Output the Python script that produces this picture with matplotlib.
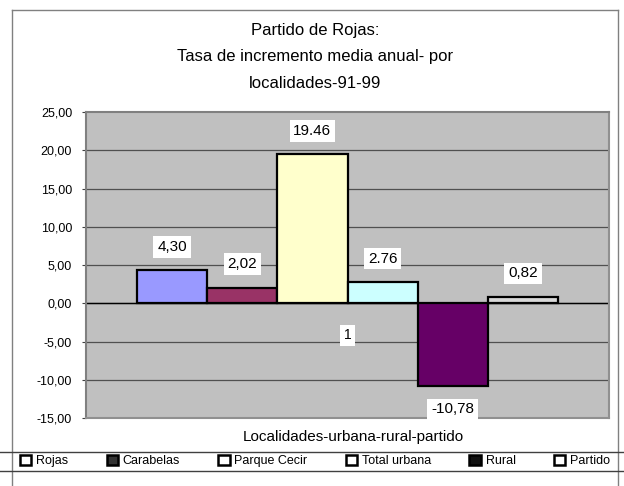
import matplotlib
matplotlib.use("Agg")
import matplotlib.pyplot as plt
from matplotlib.patches import Patch
from matplotlib.lines import Line2D
import numpy as np

plt.rcParams['font.family'] = ['Liberation Sans', 'DejaVu Sans']

series = ["Rojas", "Carabelas", "Parque Cecir", "Total urbana", "Rural", "Partido"]
values = [4.30, 2.02, 19.46, 2.76, -10.78, 0.82]
labels = ["4,30", "2,02", "19.46", "2.76", "-10,78", "0,82"]
colors = ["#9999FF", "#993366", "#FFFFCC", "#CCFFFF", "#660066", "#D8D8D8"]
legend_colors = ["white", "#333333", "white", "white", "#111111", "white"]
stray_label = "1"
stray_pos = (2.5, -4.2)
yticks = [25, 20, 15, 10, 5, 0, -5, -10, -15]
title_lines = ["Partido de Rojas:", "Tasa de incremento media anual- por", "localidades-91-99"]
xlabel = "Localidades-urbana-rural-partido"

W, H = 624, 486
fig = plt.figure(figsize=(W / 100, H / 100), dpi=100)
fig.patch.set_facecolor("white")

# outer chart border
fig.add_artist(Line2D([12 / W, 618 / W], [1 - 10 / H, 1 - 10 / H], color="#808080", lw=1))
fig.add_artist(Line2D([12 / W, 12 / W], [0, 1 - 10 / H], color="#808080", lw=1))
fig.add_artist(Line2D([618 / W, 618 / W], [0, 1 - 10 / H], color="#808080", lw=1))

ax = fig.add_axes([86 / W, 1 - 418 / H, (609 - 86) / W, (418 - 112) / H])
ax.set_facecolor("#C0C0C0")
x = np.arange(len(series))
ax.set_xlim(-1.227, len(series) - 1 + 1.227)
ax.set_ylim(-15, 25)
for yv in yticks:
    if -15 < yv < 25:
        ax.axhline(yv, color="#505050", lw=0.9, zorder=1)
bars = ax.bar(x, values, width=1.0, color=colors, edgecolor="black", linewidth=1.6, zorder=3)
ax.axhline(0, color="black", lw=1.0, zorder=2)

for b, v, lab in zip(bars, values, labels):
    cx = b.get_x() + b.get_width() / 2
    off = 17 if v >= 0 else -17
    ax.annotate(lab, (cx, v), xytext=(0, off), textcoords="offset points",
                ha="center", va="center", fontsize=11,
                bbox=dict(boxstyle="square,pad=0.25", fc="white", ec="none"), zorder=5)
ax.text(stray_pos[0], stray_pos[1], stray_label, ha="center", va="center", fontsize=10,
        bbox=dict(boxstyle="square,pad=0.25", fc="white", ec="none"), zorder=5)

ax.set_yticks(yticks)
ax.set_yticklabels([f"{t:.2f}".replace(".", ",") for t in yticks], fontsize=9)
ax.tick_params(axis="y", length=3, color="#404040", pad=7)
ax.set_xticks([])
for s in ["left", "top"]:
    ax.spines[s].set_color("#808080")
    ax.spines[s].set_linewidth(1.5)
for s in ["right", "bottom"]:
    ax.spines[s].set_color("#909090")
    ax.spines[s].set_linewidth(1.5)

# title
ty = [30, 57, 83]
for t, yy in zip(title_lines, ty):
    fig.text(315 / W, 1 - yy / H, t, ha="center", va="center", fontsize=12)

fig.text(353 / W, 1 - 437 / H, xlabel, ha="center", va="center", fontsize=11)

# legend box lines
fig.add_artist(Line2D([0, 1], [1 - 452 / H, 1 - 452 / H], color="#404040", lw=1))
fig.add_artist(Line2D([0, 1], [1 - 471 / H, 1 - 471 / H], color="#404040", lw=1))

handles = [Patch(facecolor=c, edgecolor="black", linewidth=1.8) for c in legend_colors]
fig.legend(handles, series, loc="center", ncol=6, frameon=False, fontsize=9,
           bbox_to_anchor=(20 / W, 1 - 470 / H, 590 / W, 18 / H), mode="expand",
           handlelength=0.9, handleheight=0.9, handletextpad=0.4, borderaxespad=0, borderpad=0)

fig.savefig("out.png", dpi=100)
